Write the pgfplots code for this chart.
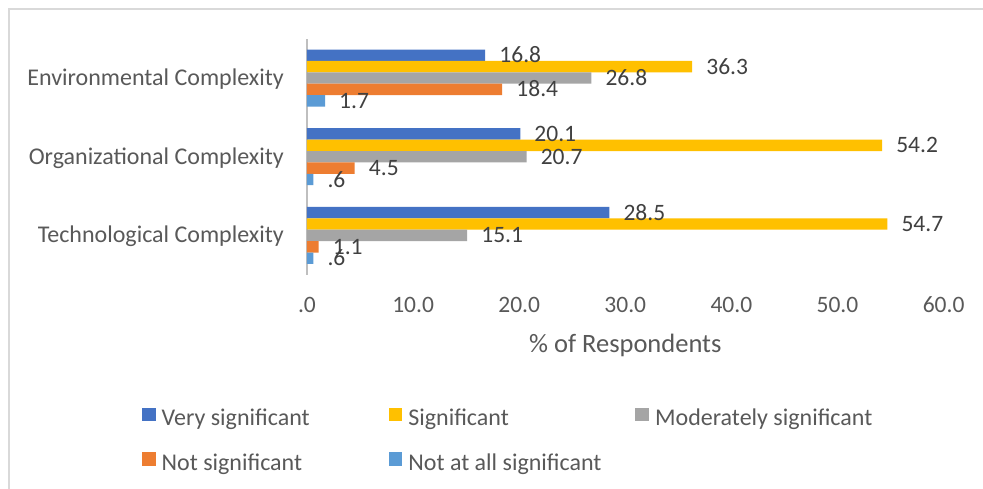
\documentclass[border=0pt]{standalone}
\usepackage{fontspec}
\setmainfont{Carlito}
\usepackage{pgfplots}
\pgfplotsset{compat=1.18}

\definecolor{cVery}{HTML}{4472C4}
\definecolor{cSig}{HTML}{FFC000}
\definecolor{cMod}{HTML}{A5A5A5}
\definecolor{cNot}{HTML}{ED7D31}
\definecolor{cNone}{HTML}{5B9BD5}
\definecolor{textGray}{HTML}{595959}
\definecolor{labelGray}{HTML}{404040}
\definecolor{axisGray}{HTML}{BFBFBF}
\definecolor{frameGray}{HTML}{D9D9D9}

\newcommand\lab{\fontsize{23.5pt}{28pt}\selectfont}
\newcommand\catlab{\fontsize{24pt}{28pt}\selectfont}
\newcommand\xlab{\fontsize{26.5pt}{32pt}\selectfont}

\begin{document}
\begin{tikzpicture}
\useasboundingbox (0pt,0pt) rectangle (983pt,488pt);
\fill[white] (0pt,0pt) rectangle (983pt,488pt);
% chart frame
\draw[frameGray, line width=1.5pt] (9pt,-2pt) -- (9pt,479pt) -- (985pt,479pt);
\begin{axis}[
  at={(307pt,213.25pt)}, anchor=south west,
  scale only axis, width=636.6pt, height=236.1pt,
  xmin=0, xmax=60, ymin=-0.5, ymax=2.5,
  xbar, bar width=11.4pt,
  clip=false,
  axis x line*=bottom, axis y line*=left,
  x axis line style={draw=none},
  y axis line style={draw=axisGray, line width=1.5pt, -},
  major tick length=0pt,
  tick style={draw=none},
  xtick={0,10,...,60},
  xticklabels={.0,10.0,20.0,30.0,40.0,50.0,60.0},
  ytick={0,1,2},
  yticklabels={Technological Complexity,Organizational Complexity,Environmental Complexity},
  xticklabel style={font=\lab, text=textGray, anchor=base, inner sep=0pt, yshift=-37.8pt},
  yticklabel style={font=\catlab, text=textGray, anchor=base east, inner sep=0pt, xshift=-23pt, yshift=-7.5pt},
  xlabel={\% of Respondents},
  xlabel style={font=\xlab, text=textGray, at={(axis description cs:0.5,0)}, anchor=base, inner sep=0pt, yshift=-77.8pt},
  nodes near coords,
  point meta=x,
  /pgf/number format/.cd, fixed, precision=1, fixed zerofill, skip 0., assume math mode=true,
  /pgfplots/.cd,
  every node near coord/.append style={font=\lab, text=labelGray, anchor=base west, inner sep=0pt, xshift=14pt, yshift=-7.5pt},
  legend columns=3,
  legend cell align=left,
  legend image code/.code={\fill[#1] (0pt,0pt) rectangle (13.7pt,13.7pt);},
  legend style={at={(axis description cs:-0.2592,-0.5631)}, anchor=north west,
    draw=none, fill=none, inner sep=0pt, outer sep=0pt,
    font=\catlab, text=textGray, row sep=21pt,
    /tikz/every odd column/.append style={column sep=6pt},
    nodes={inner sep=0pt, text height=14pt, text depth=5pt, text width=227pt, align=flush left}},
]
% categories: 0 = Technological, 1 = Organizational, 2 = Environmental
\addplot[fill=cVery, draw=none, bar shift=22.8pt] coordinates {(28.5,0) (20.1,1) (16.8,2)};
\addplot[fill=cSig, draw=none, bar shift=11.4pt] coordinates {(54.7,0) (54.2,1) (36.3,2)};
\addplot[fill=cMod, draw=none, bar shift=0pt] coordinates {(15.1,0) (20.7,1) (26.8,2)};
\addplot[fill=cNot, draw=none, bar shift=-11.4pt] coordinates {(1.1,0) (4.5,1) (18.4,2)};
\addplot[fill=cNone, draw=none, bar shift=-22.8pt] coordinates {(0.6,0) (0.6,1) (1.7,2)};
\legend{Very significant,Significant,Moderately significant,Not significant,Not at all significant}
\end{axis}
\end{tikzpicture}
\end{document}
